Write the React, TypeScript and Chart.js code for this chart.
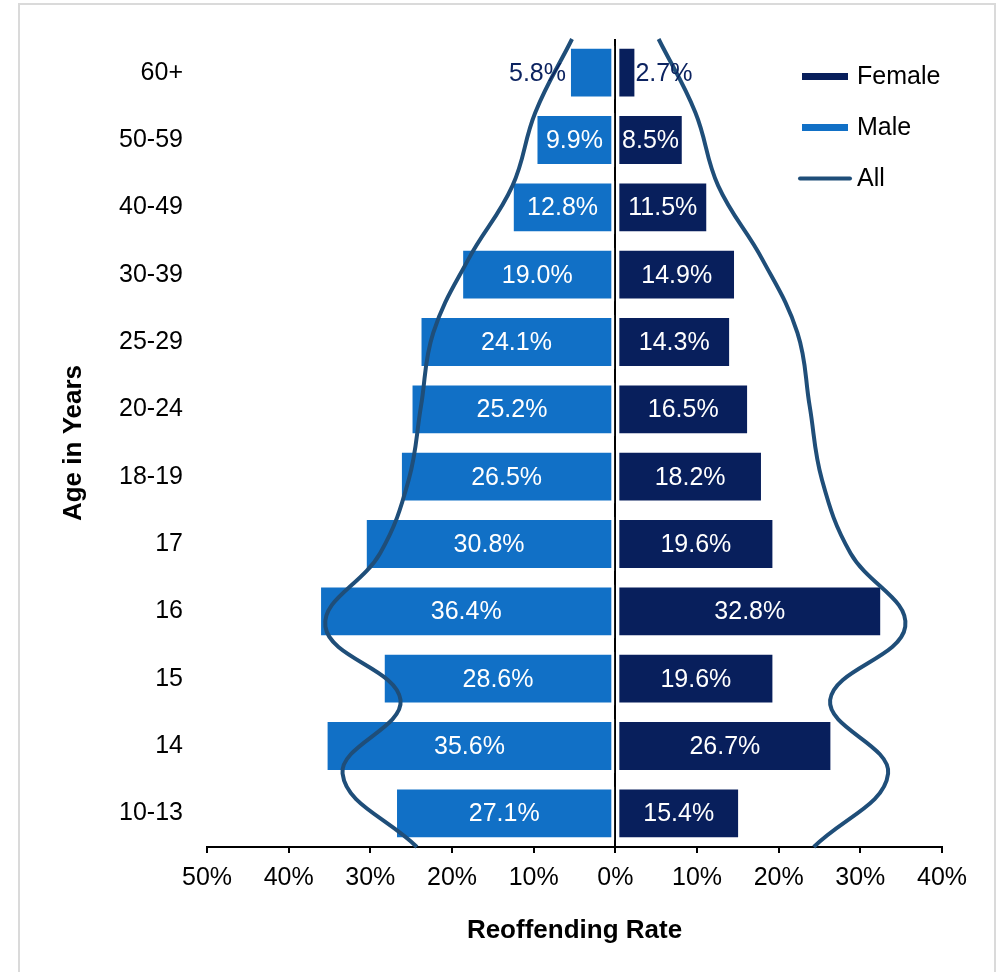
import React, { useEffect, useRef } from 'react';
import { Chart, registerables } from 'chart.js';

Chart.register(...registerables);

// ---- Data ----
const ageGroups = ['60+', '50-59', '40-49', '30-39', '25-29', '20-24', '18-19', '17', '16', '15', '14', '10-13'];
const maleRates = [5.8, 9.9, 12.8, 19.0, 24.1, 25.2, 26.5, 30.8, 36.4, 28.6, 35.6, 27.1];
const femaleRates = [2.7, 8.5, 11.5, 14.9, 14.3, 16.5, 18.2, 19.6, 32.8, 19.6, 26.7, 15.4];
const allRates = [5.3, 9.8, 12.6, 18.0, 22.3, 23.8, 25.3, 28.8, 35.5, 26.3, 33.4, 24.3];
const xMin = -50;
const xMax = 40;
const xStep = 10;

// ---- Style ----
const MALE = '#1170C6';
const FEMALE = '#081F5C';
const ALL = '#1F4E79';
const OUTSIDE_LABEL = '#0C2360';
const FONT = '"Liberation Sans", Arial, sans-serif';
const FS = 25;
const TITLE_FS = 26;
const BAR_BORDER = 3;

const barLabelPlugin = {
  id: 'barLabels',
  afterDatasetsDraw(chart: any) {
    const ctx = chart.ctx;
    ctx.save();
    ctx.font = `${FS}px ${FONT}`;
    ctx.textBaseline = 'middle';
    chart.data.datasets.forEach((ds: any, di: number) => {
      if (ds.type !== 'bar') return;
      const meta = chart.getDatasetMeta(di);
      meta.data.forEach((el: any, i: number) => {
        const v = ds.data[i];
        const text = Math.abs(v).toFixed(1) + '%';
        const { x, base, y } = el.getProps(['x', 'base', 'y'], true);
        const inner = Math.abs(x - base) - 2 * BAR_BORDER;
        const w = ctx.measureText(text).width;
        if (w <= inner) {
          ctx.fillStyle = '#ffffff';
          ctx.textAlign = 'center';
          ctx.fillText(text, (x + base) / 2, y + 1);
        } else {
          ctx.fillStyle = OUTSIDE_LABEL;
          if (x < base) {
            ctx.textAlign = 'right';
            ctx.fillText(text, x - 2, y + 1);
          } else {
            ctx.textAlign = 'left';
            ctx.fillText(text, x - 2, y + 1);
          }
        }
      });
    });
    ctx.restore();
  },
};

const legendPlugin = {
  id: 'customLegend',
  afterDraw(chart: any) {
    const ctx = chart.ctx;
    const area = chart.chartArea;
    const items = [
      { ds: chart.data.datasets[2], kind: 'bar' },
      { ds: chart.data.datasets[3], kind: 'bar' },
      { ds: chart.data.datasets[0], kind: 'line' },
    ];
    const x0 = area.right - 140;
    const x1 = area.right - 94;
    const textX = area.right - 85;
    let yy = area.top + 37.5;
    ctx.save();
    ctx.font = `${FS}px ${FONT}`;
    ctx.textBaseline = 'middle';
    ctx.textAlign = 'left';
    items.forEach((it) => {
      ctx.beginPath();
      if (it.kind === 'bar') {
        ctx.lineCap = 'butt';
        ctx.lineWidth = 7;
        ctx.strokeStyle = it.ds.backgroundColor;
        ctx.moveTo(x0, yy);
        ctx.lineTo(x1, yy);
      } else {
        ctx.lineCap = 'round';
        ctx.lineWidth = 4;
        ctx.strokeStyle = it.ds.borderColor;
        ctx.moveTo(x0 - 2, yy);
        ctx.lineTo(x1 + 2, yy);
      }
      ctx.stroke();
      ctx.fillStyle = '#000';
      ctx.fillText(it.ds.label, textX, yy + 1);
      yy += 51;
    });
    ctx.restore();
  },
};

export default function App() {
  const canvasRef = useRef<HTMLCanvasElement | null>(null);

  useEffect(() => {
    if (!canvasRef.current) return;
    const linePts = (sign: number) => allRates.map((v, i) => ({ x: sign * v, y: i }));
    const lineStyle = {
      type: 'line',
      xAxisID: 'x',
      yAxisID: 'y2',
      borderColor: ALL,
      backgroundColor: ALL,
      borderWidth: 4,
      pointRadius: 0,
      tension: 0.4,
      fill: false,
      order: 0,
      clip: false,
    };
    const barStyle = {
      type: 'bar',
      xAxisID: 'x',
      yAxisID: 'y',
      borderColor: '#ffffff',
      borderWidth: BAR_BORDER,
      borderSkipped: false,
      barPercentage: 0.8,
      categoryPercentage: 1,
      grouped: false,
      order: 2,
    };
    const chart = new Chart(canvasRef.current, {
      type: 'bar',
      data: {
        labels: ageGroups,
        datasets: [
          { ...lineStyle, label: 'All', data: linePts(1) } as any,
          { ...lineStyle, label: 'All (mirror)', data: linePts(-1) } as any,
          { ...barStyle, label: 'Female', data: femaleRates, backgroundColor: FEMALE } as any,
          { ...barStyle, label: 'Male', data: maleRates.map((v) => -v), backgroundColor: MALE } as any,
        ],
      },
      options: {
        indexAxis: 'y',
        responsive: false,
        animation: false,
        devicePixelRatio: 1,
        layout: { padding: { top: 37, right: 63, bottom: 0, left: 0 } },
        plugins: {
          legend: { display: false },
          tooltip: { enabled: false },
        },
        scales: {
          x: {
            type: 'linear',
            position: 'bottom',
            min: xMin,
            max: xMax,
            offset: false,
            z: 1,
            ticks: {
              stepSize: xStep,
              padding: 10,
              color: '#000',
              font: { family: FONT, size: FS },
              callback: (v: any) => Math.abs(Number(v)) + '%',
            },
            grid: {
              color: (c: any) => (c.tick && c.tick.value === 0 ? '#000' : 'rgba(0,0,0,0)'),
              lineWidth: 2,
              drawOnChartArea: true,
              drawTicks: true,
              tickLength: 6,
              tickColor: '#000',
              tickWidth: 2,
              offset: false,
            },
            border: { display: true, color: '#000', width: 2 },
            title: {
              display: true,
              text: 'Reoffending Rate',
              color: '#000',
              font: { family: FONT, size: TITLE_FS, weight: 'bold' },
              padding: { top: 0, bottom: 26 },
            },
            afterFit: (s: any) => {
              s.height = 125;
            },
          },
          y: {
            type: 'category',
            position: 'left',
            offset: true,
            grid: { display: false, drawTicks: false },
            border: { display: false },
            ticks: {
              padding: 24,
              color: '#000',
              font: { family: FONT, size: FS },
            },
            title: {
              display: true,
              text: 'Age in Years',
              color: '#000',
              font: { family: FONT, size: TITLE_FS, weight: 'bold' },
              padding: { top: 58, bottom: 0 },
            },
            afterFit: (s: any) => {
              s.width = 207;
            },
          },
          y2: {
            type: 'linear',
            display: false,
            offset: false,
            grid: { offset: false },
            min: 0,
            max: ageGroups.length - 1,
            reverse: true,
          },
        },
      } as any,
      plugins: [barLabelPlugin, legendPlugin],
    });
    return () => chart.destroy();
  }, []);

  return (
    <div
      style={{
        position: 'absolute',
        left: 0,
        top: 0,
        width: 1005,
        height: 972,
        overflow: 'hidden',
        background: '#fff',
      }}
    >
      <canvas ref={canvasRef} width={1005} height={972} style={{ display: 'block', width: 1005, height: 972 }} />
      <div
        style={{
          position: 'absolute',
          left: 18,
          top: 3,
          width: 978,
          height: 1100,
          boxSizing: 'border-box',
          border: '2px solid #dadada',
          pointerEvents: 'none',
        }}
      />
    </div>
  );
}
